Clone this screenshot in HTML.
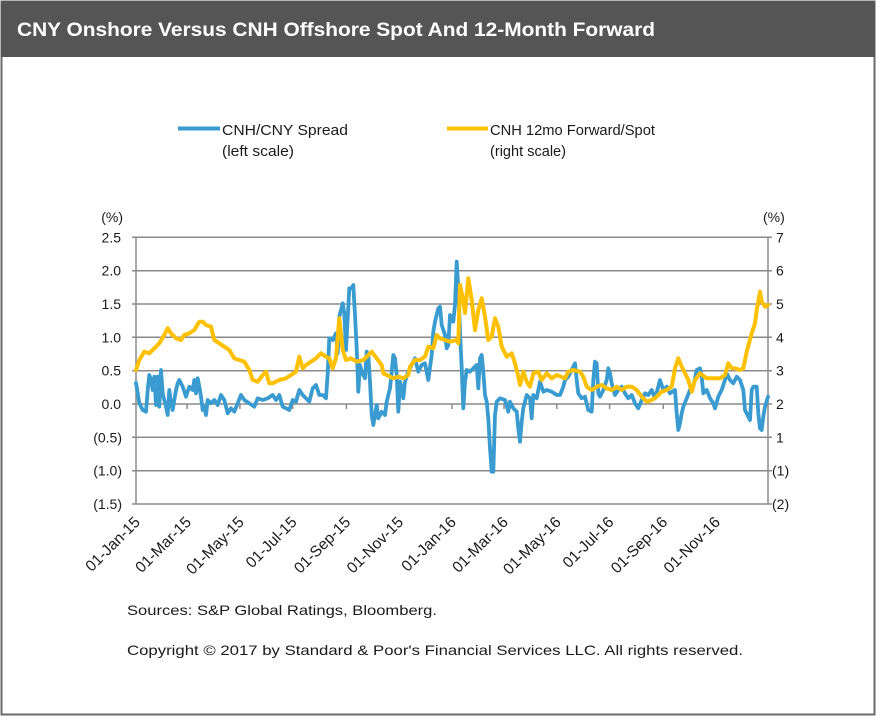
<!DOCTYPE html>
<html>
<head>
<meta charset="utf-8">
<style>
  html, body { margin:0; padding:0; background:#ffffff; }
  svg { display:block; }
  text { font-family: "Liberation Sans", Arial, sans-serif; fill:#1a1a1a; }
</style>
</head>
<body>
<svg width="877" height="718" viewBox="0 0 877 718" xmlns="http://www.w3.org/2000/svg">
  <!-- outer frame -->
  <rect x="0" y="0" width="877" height="718" fill="#ffffff"/>
  <rect x="1.5" y="1.5" width="873" height="713" fill="#ffffff" stroke="#6b6b6b" stroke-width="2"/>
  <!-- title bar -->
  <rect x="1" y="1" width="874" height="56" fill="#555555"/>
  <text x="17" y="36" font-size="19" font-weight="bold" style="fill:#ffffff" textLength="638" lengthAdjust="spacingAndGlyphs">CNY Onshore Versus CNH Offshore  Spot And 12-Month  Forward</text>

  <!-- legend -->
  <line x1="178" y1="128.5" x2="220" y2="128.5" stroke="#3A9BD0" stroke-width="4"/>
  <text x="222" y="135" font-size="15" textLength="126" lengthAdjust="spacingAndGlyphs">CNH/CNY  Spread</text>
  <text x="222" y="156" font-size="15" textLength="72" lengthAdjust="spacingAndGlyphs">(left scale)</text>
  <line x1="447" y1="128.5" x2="488" y2="128.5" stroke="#FFC000" stroke-width="4"/>
  <text x="490" y="135" font-size="15" textLength="165" lengthAdjust="spacingAndGlyphs">CNH  12mo Forward/Spot</text>
  <text x="490" y="156" font-size="15" textLength="76" lengthAdjust="spacingAndGlyphs">(right scale)</text>

  <!-- gridlines -->
  <g stroke="#8a8a8a" stroke-width="1.5">
    <line x1="132" y1="237.3" x2="772" y2="237.3"/>
    <line x1="132" y1="270.7" x2="772" y2="270.7"/>
    <line x1="132" y1="304" x2="772" y2="304"/>
    <line x1="132" y1="337.3" x2="772" y2="337.3"/>
    <line x1="132" y1="370.7" x2="772" y2="370.7"/>
    <line x1="132" y1="404" x2="772" y2="404"/>
    <line x1="132" y1="437.3" x2="772" y2="437.3"/>
    <line x1="132" y1="470.7" x2="772" y2="470.7"/>
    <line x1="132" y1="504" x2="772" y2="504"/>
    <line x1="136" y1="237.3" x2="136" y2="504"/>
    <line x1="768" y1="237.3" x2="768" y2="504"/>
  </g>
  <!-- x ticks on zero line -->
  <g stroke="#8a8a8a" stroke-width="1.5">
    <line x1="187.1" y1="404" x2="187.1" y2="409"/>
    <line x1="239.9" y1="404" x2="239.9" y2="409"/>
    <line x1="292.7" y1="404" x2="292.7" y2="409"/>
    <line x1="346.4" y1="404" x2="346.4" y2="409"/>
    <line x1="399.2" y1="404" x2="399.2" y2="409"/>
    <line x1="452" y1="404" x2="452" y2="409"/>
    <line x1="504" y1="404" x2="504" y2="409"/>
    <line x1="556.8" y1="404" x2="556.8" y2="409"/>
    <line x1="609.6" y1="404" x2="609.6" y2="409"/>
    <line x1="663.3" y1="404" x2="663.3" y2="409"/>
    <line x1="716.1" y1="404" x2="716.1" y2="409"/>
  </g>

  <!-- left axis labels -->
  <g font-size="14" text-anchor="end">
    <text x="123" y="222">(%)</text>
    <text x="121" y="242.3">2.5</text>
    <text x="121" y="275.7">2.0</text>
    <text x="121" y="309">1.5</text>
    <text x="121" y="342.3">1.0</text>
    <text x="121" y="375.7">0.5</text>
    <text x="121" y="409">0.0</text>
    <text x="122" y="442.3">(0.5)</text>
    <text x="122" y="475.7">(1.0)</text>
    <text x="122" y="509">(1.5)</text>
  </g>
  <!-- right axis labels -->
  <g font-size="14" text-anchor="start">
    <text x="763" y="222">(%)</text>
    <text x="776" y="242.3">7</text>
    <text x="776" y="275.7">6</text>
    <text x="776" y="309">5</text>
    <text x="776" y="342.3">4</text>
    <text x="776" y="375.7">3</text>
    <text x="776" y="409">2</text>
    <text x="776" y="442.3">1</text>
    <text x="772" y="475.7">(1)</text>
    <text x="772" y="509">(2)</text>
  </g>

  <!-- x axis labels -->
  <g font-size="15.5" text-anchor="end">
    <text transform="translate(141,523) rotate(-45)">01-Jan-15</text>
    <text transform="translate(192.1,523) rotate(-45)">01-Mar-15</text>
    <text transform="translate(244.9,523) rotate(-45)">01-May-15</text>
    <text transform="translate(297.7,523) rotate(-45)">01-Jul-15</text>
    <text transform="translate(351.4,523) rotate(-45)">01-Sep-15</text>
    <text transform="translate(404.2,523) rotate(-45)">01-Nov-15</text>
    <text transform="translate(457,523) rotate(-45)">01-Jan-16</text>
    <text transform="translate(509,523) rotate(-45)">01-Mar-16</text>
    <text transform="translate(561.8,523) rotate(-45)">01-May-16</text>
    <text transform="translate(614.6,523) rotate(-45)">01-Jul-16</text>
    <text transform="translate(668.3,523) rotate(-45)">01-Sep-16</text>
    <text transform="translate(721.1,523) rotate(-45)">01-Nov-16</text>
  </g>

  <!-- blue series -->
  <polyline fill="none" stroke="#3A9BD0" stroke-width="3.8" stroke-linejoin="round" stroke-linecap="round"
    points="136,383 137.7,393 139.3,403 142.7,410 146,411.7 147.7,390 149.3,375 151,380 152.7,390 154.3,376.7 156,405 157.7,376.7 159.3,406.7 161,370 162.7,393.3 164.3,400 166,406.7 167.7,415 169.3,390 171,403.3 172.7,410 174.3,400 176,390 177.7,383.3 179.3,380 182.7,386.7 186,396.7 189.3,386.7 192.7,390 194.3,380 196,393.3 197.7,378.3 199.3,386.7 201,396.7 202.7,410 204.3,406.7 206,415 207.7,400 211,403.3 214.3,400 217.7,405 221,395 224.3,400 227.7,413.3 231,408.3 234.3,411.7 237.7,403.3 241,395 244.3,400 249.3,403.3 254.3,406.7 257.7,398.3 262.7,400 267.7,398.3 272.7,395 276,400 279.3,395 282.7,406.7 286,408.3 289.3,410 292.7,400 296,401.7 299.3,390 302.7,395 306,398.3 309.3,401.7 312.7,388.3 316,385 319.3,395 322.7,395 326,398.3 327.7,373.3 329.3,338.3 332.7,340 336,333.3 337.7,353.3 339.3,316.7 342.7,303.3 344.3,313.3 346,350 349.3,288.3 351.7,288.3 353.3,285 355,315 356.7,348.3 358.3,391.7 360,365 361.7,371.7 365,378.3 366.7,351.7 368.3,355 370,381.7 371.7,415 373.3,425 375,415 376.7,405 378.3,418.3 381.7,411.7 385,415 386.7,401.7 390,388.3 391.7,371.7 393.3,355 395,358.3 396.7,375 398.3,411.7 400,381.7 401.7,388.3 403.3,398.3 405,381.7 408.3,371.7 411.7,365 415,358.3 418.3,371.7 421.7,365 425,363.3 428.3,380 431.7,355 433.3,331.7 435,321.7 438.3,308.3 440,306.7 441.7,325 445,335 446.7,348.3 448.3,345 450,315 453.3,321.7 455,305 456.7,261.7 458.3,288.3 460,331.7 461.7,368.3 463.3,408.3 465,381.7 466.7,370 470,371.7 473.3,368.3 476.7,365 478.3,388.3 480,358.3 481.7,355 483.3,371.7 485,395 486.7,401.7 488.3,418.3 490,448.3 491.7,471.7 493.3,471.7 495,415 496.7,401.7 500,398.3 505,400 508.3,411.7 510,401.7 513.3,408.3 516.7,411.7 518.3,428.3 520,441.7 521.7,421.7 523.3,408.3 526.7,395 530,398.3 531.7,418.3 533.3,395 536.7,398.3 540,381.7 543.3,391.7 546.7,390 551.7,391.7 556.7,395 560,395 563.3,386.7 565,380 568.3,376.7 571.7,370 575,363.3 576.7,380 578.3,393.3 581.7,398.3 585,396.7 588.3,410 591.7,411.7 593.3,380 595,361.7 596.7,363.3 598.3,393.3 600,396.7 603.3,390 606.7,380 608.3,368.3 610,373.3 611.7,383.3 615,395 618.3,390 621.7,386.7 625,393.3 628.3,398.3 631.7,395 635,403.3 638.3,408.3 641.7,400 645,393.3 648.3,395 651.7,390 655,398.3 658.3,386.7 660,380 663.3,390 666.7,386.7 670,393.3 675,390 676.7,413.3 678.3,430 680,423.3 681.7,413.3 683.3,406.7 686.7,398.3 690,390 693.3,386.7 696.7,370 700,368.3 701.7,376.7 703.3,393.3 706.7,390 710,398.3 713.3,403.3 715,408.3 718.3,396.7 721.7,390 725,380 726.7,373.3 730,380 733.3,383.3 736.7,376.7 740,380 743.3,390 745,410 748.3,416.7 750,420 751.7,390 753.3,386.7 756.7,386.7 758.3,413.3 760,428.3 761.7,430 763.3,416.7 765,406.7 768,396.7"/>

  <!-- yellow series -->
  <polyline fill="none" stroke="#FFC000" stroke-width="4" stroke-linejoin="round" stroke-linecap="round"
    points="136,370 139.3,360 144.3,351.7 149.3,353.3 154.3,348.3 159.3,343.3 164.3,335 167.7,328.3 171,333.3 176,338.3 181,340 184.3,335 189.3,333.3 194.3,330 199.3,321.7 202.7,321.7 206,325 211,326.7 214.3,340 219.3,343.3 224.3,346.7 229.3,350 234.3,358.3 239.3,360 244.3,361.7 249.3,370 252.7,380 257.7,381.7 262.7,375 266,371.7 269.3,383.3 272.7,383.3 279.3,380 286,378.3 291,375 296,371.7 299.3,356.7 302.7,368.3 306,365 311,361.7 316,358.3 321,353.3 326,356.7 329.3,358.3 332.7,368.3 336,358.3 339.3,318.3 342.7,350 346,360 351,358.3 356.7,361.7 363.3,360 371.7,351.7 376.7,358.3 381.7,365 383.3,373.3 390,376.7 393.3,378.3 398.3,376.7 403.3,378.3 408.3,375 410,366.7 415,360 420,360 425,356.7 428.3,346.7 433.3,348.3 436.7,335 440,338.3 445,340 450,341.7 456.7,340 458.3,343.3 460,285 463.3,300 465,313 468.3,278.3 471.7,300 475,330 478.3,310 481.7,298.3 485,316.7 488.3,340 491.7,336.7 495,318.3 498.3,326.7 501.7,346.7 506.7,356.7 511.7,353.3 515,363.3 518.3,376.7 520,385 523.3,371.7 526.7,381.7 530,386.7 533.3,373.3 538.3,371.7 541.7,380 546.7,373.3 551.7,378.3 556.7,375 565,378.3 568.3,371.7 573.3,370 580,371.7 583.3,376.7 586.7,386.7 591.7,390 596.7,386.7 601.7,385 606.7,388.3 611.7,390 616.7,386.7 621.7,390 626.7,386.7 631.7,386.7 636.7,390 641.7,396.7 646.7,401.7 651.7,400 656.7,396.7 661.7,391.7 666.7,390 671.7,386.7 675,368.3 678.3,358.3 681.7,366.7 685,373.3 688.3,380 691.7,391.7 695,380 700,373.3 706.7,378.3 713.3,378.3 720,378.3 725,375 728.3,363.3 731.7,368.3 735,368.3 740,370 743.3,368.3 746.7,351.7 751.7,333.3 755,323.3 756.7,310 760,291.7 761.7,301.7 765,306.7 768,305"/>

  <!-- footer -->
  <text x="127" y="615" font-size="14" textLength="310" lengthAdjust="spacingAndGlyphs">Sources: S&amp;P Global Ratings, Bloomberg.</text>
  <text x="127" y="655" font-size="14" textLength="616" lengthAdjust="spacingAndGlyphs">Copyright © 2017 by Standard &amp; Poor's Financial Services LLC. All rights reserved.</text>
</svg>
</body>
</html>
